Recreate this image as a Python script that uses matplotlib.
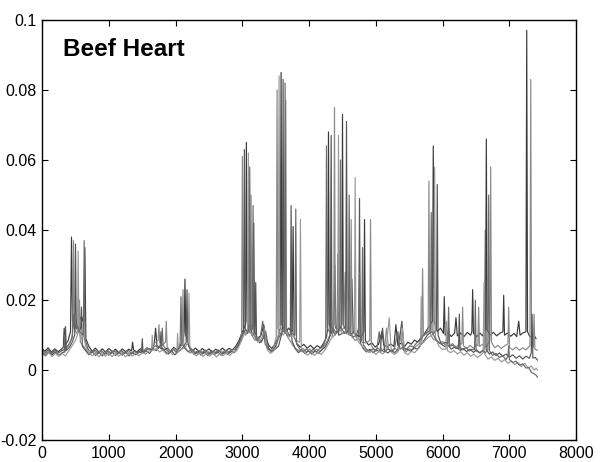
import matplotlib
matplotlib.use("Agg")
import matplotlib.pyplot as plt

plt.rcParams['font.family'] = ['Liberation Sans', 'DejaVu Sans']

title_text = "Beef Heart"
x_ticks = [0, 1000, 2000, 3000, 4000, 5000, 6000, 7000, 8000]
y_ticks = [-0.02, 0, 0.02, 0.04, 0.06, 0.08, 0.1]
y_tick_labels = ["-0.02", "0", "0.02", "0.04", "0.06", "0.08", "0.1"]

trace1 = [(0,.0062),(40,.0054),(90,.0064),(140,.0052),(190,.0061),(240,.0053),(290,.0060),(318,.0066),(330,.0120),(342,.0070),(390,.0085),(425,.0110),(440,.0380),(455,.0140),(500,.0120),(540,.0160),(600,.0140),(625,.0160),(640,.0350),(655,.0090),(700,.0068),(750,.0054),(800,.0063),(850,.0051),(900,.0061),(950,.0052),(1000,.0062),(1050,.0053),(1100,.0060),(1150,.0050),(1200,.0061),(1250,.0053),(1300,.0060),(1340,.0055),(1355,.0080),(1370,.0058),(1420,.0052),(1470,.0061),(1520,.0054),(1570,.0064),(1620,.0058),(1680,.0075),(1700,.0120),(1720,.0070),(1770,.0064),(1820,.0056),(1870,.0063),(1920,.0054),(1970,.0065),(2020,.0058),(2070,.0070),(2110,.0085),(2128,.0110),(2140,.0260),(2152,.0100),(2200,.0068),(2250,.0056),(2300,.0063),(2350,.0052),(2400,.0062),(2450,.0053),(2500,.0061),(2550,.0051),(2600,.0060),(2650,.0054),(2700,.0063),(2750,.0055),(2800,.0062),(2850,.0058),(2900,.0068),(2950,.0085),(3000,.0110),(3048,.0130),(3060,.0650),(3072,.0140),(3100,.0110),(3130,.0130),(3158,.0120),(3170,.0420),(3182,.0110),(3230,.0090),(3280,.0100),(3320,.0130),(3360,.0085),(3400,.0070),(3440,.0062),(3480,.0072),(3530,.0090),(3568,.0120),(3580,.0850),(3592,.0130),(3640,.0105),(3690,.0120),(3745,.0110),(3760,.0410),(3775,.0095),(3820,.0075),(3870,.0066),(3920,.0074),(3970,.0063),(4020,.0071),(4070,.0061),(4120,.0070),(4170,.0064),(4220,.0078),(4260,.0095),(4278,.0120),(4290,.0680),(4302,.0130),(4340,.0105),(4370,.0130),(4385,.0300),(4400,.0120),(4450,.0115),(4488,.0130),(4500,.0730),(4512,.0130),(4560,.0110),(4620,.0125),(4640,.0260),(4660,.0110),(4720,.0100),(4780,.0095),(4818,.0110),(4830,.0430),(4842,.0085),(4890,.0072),(4940,.0078),(4990,.0066),(5040,.0074),(5090,.0110),(5120,.0072),(5170,.0066),(5220,.0075),(5270,.0068),(5300,.0130),(5330,.0070),(5380,.0078),(5430,.0068),(5480,.0080),(5530,.0074),(5580,.0086),(5630,.0080),(5680,.0095),(5730,.0105),(5780,.0120),(5848,.0140),(5860,.0640),(5872,.0140),(5920,.0110),(5970,.0120),(6012,.0105),(6025,.0210),(6038,.0100),(6080,.0108),(6130,.0096),(6180,.0106),(6200,.0150),(6220,.0098),(6270,.0106),(6320,.0096),(6370,.0108),(6420,.0100),(6438,.0110),(6450,.0230),(6462,.0105),(6510,.0096),(6560,.0106),(6600,.0098),(6643,.0120),(6655,.0660),(6667,.0115),(6710,.0100),(6760,.0108),(6810,.0098),(6860,.0106),(6903,.0110),(6915,.0214),(6927,.0100),(6970,.0106),(7020,.0097),(7070,.0105),(7110,.0096),(7140,.0140),(7160,.0100),(7200,.0106),(7248,.0110),(7260,.0970),(7272,.0110),(7300,.0098),(7340,.0093),(7370,.0100),(7400,.0090)]

trace2 = [(0,.0056),(45,.0048),(95,.0058),(145,.0047),(195,.0056),(245,.0049),(290,.0055),(328,.0060),(340,.0100),(352,.0060),(400,.0072),(440,.0090),(458,.0110),(470,.0370),(482,.0120),(520,.0105),(548,.0110),(560,.0200),(572,.0080),(620,.0068),(670,.0056),(720,.0047),(770,.0056),(820,.0046),(870,.0055),(920,.0045),(970,.0054),(1020,.0047),(1070,.0056),(1120,.0046),(1170,.0055),(1220,.0047),(1270,.0054),(1320,.0045),(1370,.0055),(1420,.0048),(1470,.0057),(1520,.0051),(1570,.0062),(1620,.0058),(1670,.0075),(1738,.0085),(1750,.0130),(1762,.0080),(1800,.0072),(1848,.0080),(1860,.0140),(1872,.0068),(1920,.0053),(1970,.0062),(2020,.0055),(2070,.0064),(2098,.0075),(2110,.0230),(2122,.0072),(2170,.0058),(2220,.0049),(2270,.0058),(2320,.0047),(2370,.0056),(2420,.0048),(2470,.0057),(2520,.0046),(2570,.0055),(2620,.0048),(2670,.0057),(2720,.0047),(2770,.0056),(2820,.0050),(2870,.0060),(2920,.0065),(2970,.0085),(2988,.0105),(3000,.0610),(3012,.0120),(3050,.0100),(3090,.0120),(3118,.0105),(3130,.0500),(3142,.0100),(3190,.0085),(3240,.0095),(3290,.0080),(3330,.0110),(3370,.0068),(3420,.0055),(3470,.0064),(3508,.0095),(3520,.0800),(3532,.0120),(3580,.0100),(3610,.0120),(3638,.0110),(3650,.0770),(3662,.0100),(3710,.0085),(3760,.0070),(3810,.0060),(3860,.0054),(3910,.0062),(3960,.0052),(4010,.0061),(4060,.0051),(4110,.0060),(4160,.0053),(4210,.0064),(4260,.0080),(4310,.0100),(4330,.0240),(4345,.0095),(4368,.0120),(4380,.0750),(4392,.0130),(4440,.0110),(4520,.0120),(4540,.0280),(4555,.0105),(4618,.0100),(4630,.0430),(4642,.0095),(4690,.0085),(4740,.0090),(4790,.0080),(4860,.0078),(4908,.0085),(4920,.0430),(4932,.0070),(4980,.0056),(5030,.0063),(5080,.0054),(5130,.0063),(5160,.0120),(5190,.0060),(5240,.0053),(5290,.0062),(5340,.0055),(5370,.0110),(5400,.0060),(5450,.0052),(5500,.0061),(5550,.0058),(5600,.0068),(5650,.0075),(5688,.0090),(5700,.0290),(5712,.0100),(5750,.0105),(5783,.0115),(5795,.0540),(5807,.0110),(5850,.0090),(5900,.0085),(5950,.0076),(6000,.0082),(6040,.0072),(6075,.0080),(6090,.0120),(6105,.0070),(6150,.0076),(6200,.0066),(6250,.0075),(6288,.0075),(6300,.0180),(6312,.0070),(6360,.0062),(6410,.0071),(6460,.0063),(6500,.0072),(6528,.0070),(6540,.0180),(6552,.0068),(6600,.0074),(6650,.0066),(6708,.0085),(6720,.0580),(6732,.0080),(6780,.0064),(6830,.0071),(6880,.0062),(6930,.0070),(6978,.0075),(6990,.0180),(7002,.0065),(7050,.0058),(7100,.0066),(7150,.0057),(7200,.0064),(7250,.0058),(7308,.0070),(7320,.0830),(7332,.0070),(7358,.0065),(7370,.0160),(7382,.0060),(7420,.0057)]

trace3 = [(0,.0050),(50,.0043),(100,.0053),(150,.0044),(200,.0052),(250,.0042),(300,.0050),(338,.0052),(350,.0125),(362,.0056),(410,.0066),(450,.0080),(488,.0100),(500,.0360),(512,.0120),(550,.0110),(578,.0120),(590,.0180),(602,.0068),(650,.0056),(700,.0044),(750,.0053),(800,.0042),(850,.0051),(900,.0041),(950,.0050),(1000,.0043),(1050,.0052),(1100,.0042),(1150,.0051),(1200,.0043),(1250,.0052),(1300,.0041),(1350,.0050),(1400,.0044),(1450,.0053),(1488,.0050),(1500,.0090),(1512,.0050),(1560,.0055),(1610,.0048),(1660,.0062),(1710,.0056),(1768,.0068),(1780,.0110),(1792,.0066),(1840,.0054),(1890,.0046),(1940,.0055),(1990,.0044),(2040,.0054),(2090,.0060),(2146,.0075),(2158,.0080),(2170,.0230),(2182,.0075),(2230,.0055),(2280,.0045),(2330,.0053),(2380,.0043),(2430,.0052),(2480,.0042),(2530,.0051),(2580,.0044),(2630,.0053),(2680,.0043),(2730,.0052),(2780,.0045),(2830,.0054),(2880,.0050),(2930,.0064),(2980,.0090),(3018,.0110),(3030,.0630),(3042,.0120),(3080,.0105),(3110,.0130),(3150,.0100),(3188,.0105),(3200,.0250),(3212,.0090),(3260,.0078),(3310,.0090),(3350,.0110),(3390,.0064),(3440,.0052),(3490,.0060),(3540,.0068),(3598,.0110),(3610,.0830),(3622,.0120),(3670,.0100),(3718,.0100),(3730,.0470),(3742,.0085),(3790,.0062),(3840,.0050),(3890,.0058),(3940,.0047),(3990,.0056),(4040,.0046),(4090,.0055),(4140,.0048),(4190,.0058),(4240,.0066),(4290,.0085),(4318,.0100),(4330,.0670),(4342,.0120),(4390,.0100),(4420,.0115),(4430,.0330),(4442,.0100),(4500,.0105),(4548,.0110),(4560,.0710),(4572,.0110),(4620,.0100),(4670,.0110),(4710,.0095),(4743,.0095),(4755,.0490),(4767,.0078),(4810,.0062),(4860,.0052),(4910,.0060),(4960,.0050),(5010,.0058),(5060,.0052),(5100,.0120),(5130,.0056),(5180,.0049),(5230,.0058),(5280,.0050),(5330,.0059),(5390,.0140),(5420,.0056),(5470,.0060),(5520,.0054),(5570,.0064),(5620,.0060),(5670,.0072),(5720,.0085),(5770,.0100),(5830,.0110),(5870,.0105),(5908,.0120),(5920,.0530),(5932,.0100),(5980,.0074),(6030,.0068),(6080,.0072),(6130,.0060),(6180,.0066),(6238,.0060),(6250,.0160),(6262,.0056),(6310,.0062),(6360,.0053),(6410,.0060),(6460,.0051),(6510,.0058),(6560,.0049),(6600,.0056),(6628,.0065),(6640,.0400),(6652,.0060),(6700,.0046),(6750,.0052),(6800,.0042),(6850,.0049),(6900,.0040),(6950,.0046),(7000,.0037),(7050,.0044),(7100,.0034),(7150,.0041),(7200,.0032),(7250,.0040),(7300,.0034),(7328,.0050),(7340,.0160),(7352,.0035),(7390,.0036),(7420,.0029)]

trace4 = [(0,.0047),(50,.0040),(100,.0050),(150,.0039),(200,.0048),(250,.0040),(300,.0047),(350,.0041),(400,.0056),(450,.0070),(500,.0085),(528,.0100),(540,.0340),(552,.0105),(590,.0090),(620,.0100),(650,.0070),(700,.0050),(750,.0041),(800,.0049),(850,.0038),(900,.0047),(950,.0040),(1000,.0049),(1050,.0039),(1100,.0048),(1150,.0040),(1200,.0049),(1250,.0038),(1300,.0047),(1350,.0040),(1400,.0049),(1450,.0041),(1500,.0050),(1550,.0046),(1600,.0055),(1638,.0056),(1650,.0100),(1662,.0056),(1710,.0062),(1760,.0052),(1810,.0058),(1860,.0046),(1910,.0054),(1960,.0044),(2018,.0052),(2030,.0105),(2042,.0052),(2090,.0060),(2140,.0065),(2188,.0080),(2200,.0220),(2212,.0070),(2260,.0050),(2310,.0041),(2360,.0050),(2410,.0039),(2460,.0048),(2510,.0040),(2560,.0049),(2610,.0038),(2660,.0047),(2710,.0041),(2760,.0050),(2810,.0042),(2860,.0051),(2910,.0055),(2960,.0072),(3010,.0095),(3050,.0110),(3078,.0110),(3090,.0620),(3102,.0120),(3140,.0100),(3180,.0105),(3230,.0080),(3290,.0090),(3330,.0120),(3370,.0060),(3420,.0048),(3470,.0056),(3510,.0070),(3538,.0100),(3550,.0840),(3562,.0130),(3610,.0100),(3650,.0110),(3700,.0095),(3760,.0100),(3810,.0085),(3858,.0080),(3870,.0430),(3882,.0065),(3930,.0050),(3980,.0043),(4030,.0052),(4080,.0042),(4130,.0051),(4180,.0045),(4230,.0056),(4280,.0072),(4330,.0090),(4380,.0100),(4428,.0110),(4440,.0670),(4452,.0120),(4500,.0105),(4570,.0115),(4585,.0250),(4600,.0100),(4678,.0105),(4690,.0550),(4702,.0095),(4750,.0078),(4800,.0068),(4850,.0058),(4900,.0050),(4950,.0055),(5000,.0045),(5050,.0054),(5100,.0046),(5150,.0055),(5200,.0150),(5230,.0052),(5280,.0045),(5330,.0053),(5400,.0120),(5430,.0050),(5480,.0044),(5530,.0054),(5580,.0050),(5630,.0060),(5668,.0068),(5680,.0210),(5692,.0075),(5740,.0085),(5790,.0095),(5840,.0100),(5868,.0110),(5880,.0580),(5892,.0095),(5940,.0070),(5990,.0060),(6048,.0060),(6060,.0140),(6072,.0056),(6120,.0050),(6170,.0056),(6220,.0046),(6270,.0053),(6320,.0043),(6370,.0050),(6420,.0040),(6470,.0046),(6520,.0036),(6570,.0043),(6608,.0050),(6620,.0250),(6632,.0045),(6680,.0032),(6730,.0038),(6780,.0028),(6830,.0034),(6880,.0024),(6930,.0030),(6980,.0020),(7030,.0026),(7080,.0016),(7130,.0022),(7180,.0010),(7230,.0020),(7280,.0006),(7330,.0012),(7370,.0000),(7400,.0006),(7420,.0000)]

trace5 = [(0,.0058),(45,.0050),(95,.0060),(145,.0049),(195,.0058),(245,.0050),(295,.0057),(340,.0054),(380,.0068),(420,.0080),(453,.0095),(465,.0160),(480,.0120),(520,.0130),(560,.0110),(618,.0100),(630,.0370),(642,.0088),(690,.0060),(740,.0050),(790,.0058),(840,.0047),(890,.0056),(940,.0046),(990,.0055),(1040,.0048),(1090,.0057),(1140,.0047),(1190,.0056),(1240,.0048),(1290,.0057),(1340,.0047),(1390,.0055),(1440,.0049),(1490,.0058),(1540,.0052),(1590,.0062),(1640,.0058),(1690,.0070),(1740,.0064),(1788,.0075),(1800,.0120),(1812,.0072),(1860,.0058),(1910,.0050),(1960,.0059),(2010,.0052),(2056,.0065),(2068,.0080),(2080,.0210),(2092,.0075),(2140,.0062),(2190,.0052),(2240,.0060),(2290,.0048),(2340,.0057),(2390,.0049),(2440,.0058),(2490,.0047),(2540,.0056),(2590,.0049),(2640,.0058),(2690,.0048),(2740,.0057),(2790,.0050),(2840,.0059),(2890,.0058),(2940,.0075),(2990,.0095),(3040,.0115),(3098,.0110),(3110,.0580),(3122,.0120),(3148,.0115),(3160,.0470),(3172,.0100),(3220,.0085),(3270,.0095),(3305,.0140),(3340,.0075),(3390,.0060),(3440,.0054),(3490,.0066),(3540,.0090),(3590,.0110),(3628,.0110),(3640,.0820),(3652,.0120),(3700,.0100),(3750,.0105),(3788,.0100),(3800,.0460),(3812,.0075),(3860,.0060),(3910,.0052),(3960,.0061),(4010,.0051),(4060,.0060),(4110,.0052),(4160,.0062),(4210,.0068),(4248,.0090),(4260,.0640),(4272,.0120),(4320,.0105),(4360,.0120),(4410,.0105),(4458,.0120),(4470,.0600),(4482,.0120),(4530,.0105),(4588,.0110),(4600,.0500),(4612,.0105),(4660,.0095),(4710,.0100),(4740,.0120),(4755,.0280),(4770,.0085),(4788,.0085),(4800,.0350),(4812,.0072),(4860,.0060),(4910,.0054),(4960,.0062),(5010,.0055),(5050,.0110),(5080,.0058),(5130,.0052),(5180,.0061),(5230,.0054),(5280,.0063),(5330,.0110),(5360,.0060),(5410,.0066),(5460,.0060),(5510,.0070),(5560,.0066),(5610,.0078),(5660,.0085),(5710,.0098),(5760,.0105),(5818,.0115),(5830,.0450),(5842,.0110),(5890,.0090),(5940,.0080),(5990,.0074),(6040,.0080),(6078,.0075),(6090,.0180),(6102,.0068),(6150,.0072),(6200,.0062),(6250,.0068),(6300,.0058),(6350,.0065),(6400,.0055),(6440,.0060),(6478,.0058),(6490,.0200),(6502,.0055),(6550,.0050),(6600,.0056),(6640,.0050),(6678,.0058),(6690,.0500),(6702,.0055),(6750,.0042),(6800,.0048),(6850,.0036),(6900,.0042),(6950,.0030),(6978,.0040),(6990,.0070),(7002,.0030),(7050,.0022),(7100,.0026),(7150,.0014),(7200,.0018),(7250,.0006),(7290,.0008),(7330,-.0006),(7370,-.0010),(7400,-.0014),(7420,-.0020)]

traces = [trace1, trace2, trace3, trace4, trace5]
colors = ['#3a3a3a', '#8a8a8a', '#555555', '#9a9a9a', '#6a6a6a']

fig = plt.figure(figsize=(6.02, 4.62), dpi=100)
ax = fig.add_axes([0.070, 0.047, 0.887, 0.910])

for tr, c in zip(traces, colors):
    xs = [p[0] for p in tr]
    ys = [p[1] for p in tr]
    ax.plot(xs, ys, color=c, lw=0.85)

ax.set_xlim(0, 8000)
ax.set_ylim(-0.02, 0.1)
ax.set_xticks(x_ticks)
ax.set_xticklabels([str(v) for v in x_ticks])
ax.set_yticks(y_ticks)
ax.set_yticklabels(y_tick_labels)
ax.tick_params(direction='in', length=4, width=0.8, labelsize=11.5,
               top=True, right=True, pad=4)
for s in ax.spines.values():
    s.set_linewidth(1.0)

ax.text(0.04, 0.93, title_text, transform=ax.transAxes, fontsize=17.5,
        fontweight='bold', va='center', ha='left')

fig.savefig("out.png", dpi=100)
